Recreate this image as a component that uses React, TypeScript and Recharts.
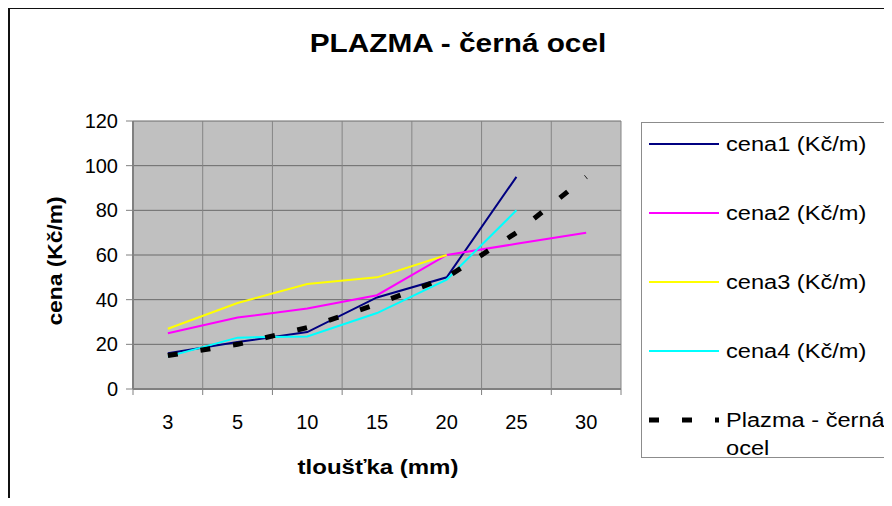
import React from 'react';
import { LineChart, Line, XAxis, YAxis, CartesianGrid, Legend } from 'recharts';

// tloušťka plechu (mm)
const categories = ['3', '5', '10', '15', '20', '25', '30'];

// ceny v Kč/m
const cena1 = [16, 21, 25.5, 41, 50, 95, null];
const cena2 = [25, 32, 36, 42, 60, 65, 70];
const cena3 = [27, 38.5, 47, 50, 60, null, null];
const cena4 = [14.5, 23, 23.5, 34, 49, 80, null];
const plazma = [15, 20, 27.5, 38, 50, 70, 95];

const yTicks = [0, 20, 40, 60, 80, 100, 120];

const series = [
  { key: 'cena1', name: 'cena1 (Kč/m)', color: '#000080', width: 2, dash: undefined },
  { key: 'cena2', name: 'cena2 (Kč/m)', color: '#FF00FF', width: 2, dash: undefined },
  { key: 'cena3', name: 'cena3 (Kč/m)', color: '#FFFF00', width: 2, dash: undefined },
  { key: 'cena4', name: 'cena4 (Kč/m)', color: '#00FFFF', width: 2, dash: undefined },
  { key: 'plazma', name: 'Plazma - černá ocel', color: '#000000', width: 5, dash: '10 23' },
];

const data = categories.map((c, i) => ({
  x: i + 0.5,
  tloustka: c,
  cena1: cena1[i],
  cena2: cena2[i],
  cena3: cena3[i],
  cena4: cena4[i],
  plazma: plazma[i],
}));

const font = '"Liberation Sans", Arial, sans-serif';

const renderLegend = () => (
  <div style={{ position: 'relative', width: '100%', height: '100%', fontFamily: font }}>
    {series.map((s, i) => (
      <div
        key={s.key}
        style={{ position: 'absolute', left: 0, top: 7 + i * 69, width: 250, lineHeight: '28px' }}
      >
        <svg width={72} height={28} style={{ position: 'absolute', left: 7, top: 0 }}>
          <line x1={0} y1={14} x2={70} y2={14} stroke={s.color} strokeWidth={s.width} strokeDasharray={s.dash} />
        </svg>
        <div
          style={{
            position: 'absolute',
            left: 84,
            top: 0,
            width: 140,
            fontSize: 20,
            color: '#000',
            transform: 'scaleX(1.18)',
            transformOrigin: 'left top',
          }}
        >
          {s.name}
        </div>
      </div>
    ))}
  </div>
);

export default function App() {
  return (
    <div
      style={{
        position: 'relative',
        width: 884,
        height: 498,
        marginBottom: -8,
        overflow: 'hidden',
        background: '#fff',
        fontFamily: font,
      }}
    >
      <LineChart
        width={884}
        height={498}
        data={data}
        margin={{ top: 113, right: 271, bottom: 81, left: 65 }}
      >
        <CartesianGrid xAxisId="grid" vertical={false} stroke="#6a6a6a" fill="#C0C0C0" fillOpacity={1} />
        <CartesianGrid xAxisId="grid" horizontal={false} stroke="#858585" />
        <XAxis
          xAxisId="grid"
          dataKey="x"
          type="number"
          domain={[0, 7]}
          ticks={[0, 1, 2, 3, 4, 5, 6, 7]}
          tickFormatter={() => ''}
          tickSize={6}
          height={6}
          axisLine={{ stroke: '#808080', strokeWidth: 2 }}
          tickLine={{ stroke: '#808080' }}
          allowDataOverflow
        />
        <XAxis
          xAxisId="lab"
          dataKey="x"
          type="number"
          domain={[0, 7]}
          ticks={[0.5, 1.5, 2.5, 3.5, 4.5, 5.5, 6.5]}
          tickFormatter={(v: number) => categories[Math.floor(v)]}
          axisLine={false}
          tickLine={false}
          tickSize={0}
          tickMargin={20}
          height={30}
          tick={{ fill: '#000', fontSize: 20, fontFamily: font }}
          allowDataOverflow
        />
        <YAxis
          type="number"
          domain={[0, 120]}
          ticks={yTicks}
          width={60}
          tickSize={7}
          tickMargin={8}
          axisLine={{ stroke: '#808080', strokeWidth: 2 }}
          tickLine={{ stroke: '#808080' }}
          tick={{ fill: '#000', fontSize: 20, fontFamily: font }}
        />
        <Legend
          layout="vertical"
          align="center"
          verticalAlign="middle"
          content={renderLegend}
          wrapperStyle={{
            left: 633,
            top: 114,
            width: 262,
            height: 336,
            border: '1px solid #8c8c8c',
            background: '#fff',
            boxSizing: 'border-box',
          }}
        />
        {series.map((s) => (
          <Line
            key={s.key}
            xAxisId="grid"
            type="linear"
            dataKey={s.key}
            name={s.name}
            stroke={s.color}
            strokeWidth={s.width}
            strokeDasharray={s.dash}
            dot={false}
            activeDot={false}
            isAnimationActive={false}
          />
        ))}
      </LineChart>

      <div
        style={{
          position: 'absolute',
          left: 250,
          top: 20,
          width: 400,
          textAlign: 'center',
          fontSize: 25,
          lineHeight: '30px',
          fontWeight: 'bold',
          whiteSpace: 'nowrap',
          transform: 'scaleX(1.19)',
        }}
      >
        PLAZMA - černá ocel
      </div>

      <div
        style={{
          position: 'absolute',
          left: 47,
          top: 253,
          transform: 'translate(-50%, -50%) rotate(-90deg) scaleX(1.14)',
          fontSize: 20,
          lineHeight: '24px',
          fontWeight: 'bold',
          whiteSpace: 'nowrap',
        }}
      >
        cena (Kč/m)
      </div>

      <div
        style={{
          position: 'absolute',
          left: 270,
          top: 445,
          width: 200,
          textAlign: 'center',
          fontSize: 20,
          lineHeight: '28px',
          fontWeight: 'bold',
          whiteSpace: 'nowrap',
          transform: 'scaleX(1.2)',
        }}
      >
        tloušťka (mm)
      </div>

      <div
        style={{
          position: 'absolute',
          left: 0,
          top: -1,
          width: 884,
          height: 499,
          borderLeft: '2px solid #111',
          borderTop: '2px solid #111',
          boxSizing: 'border-box',
          pointerEvents: 'none',
        }}
      />
    </div>
  );
}
